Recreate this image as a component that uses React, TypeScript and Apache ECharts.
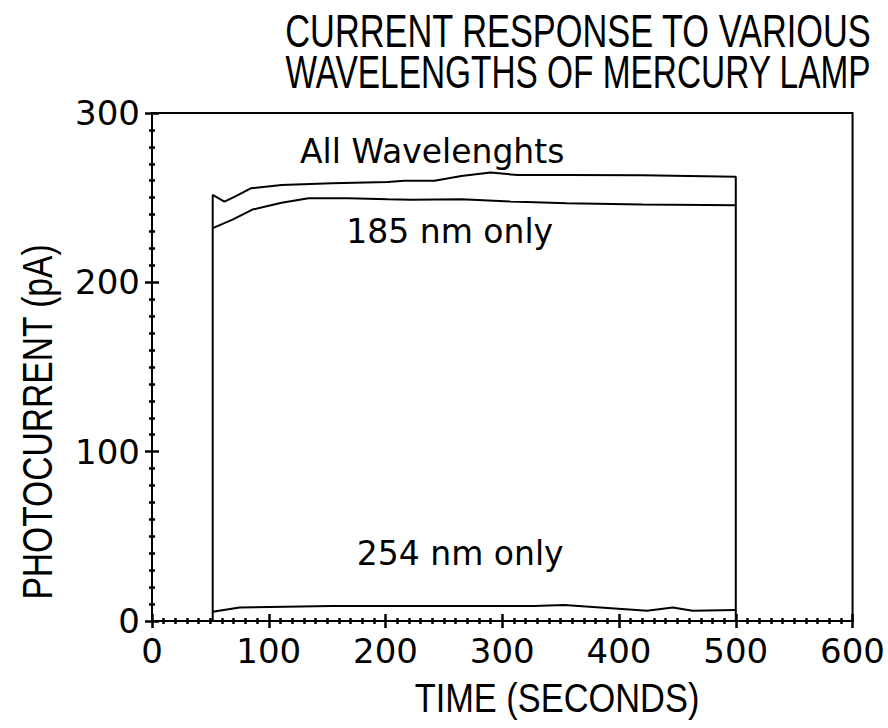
import React, { useEffect, useRef } from "react";
import * as echarts from "echarts";

// ---- Data ----
const titleLines = ["CURRENT RESPONSE TO VARIOUS", "WAVELENGTHS OF MERCURY LAMP"];
const xAxisName = "TIME (SECONDS)";
const yAxisName = "PHOTOCURRENT (pA)";

// All wavelengths (includes the on/off vertical edges)
const timeAll = [52, 52, 62, 71, 85, 111, 154, 202, 216, 242, 265, 290, 313, 355, 420, 500, 500];
const valAll = [0, 251.6, 247.7, 250.6, 255.6, 257.5, 258.5, 259.3, 260, 260, 262.8, 264.8, 263.4, 263.4, 263.2, 262.4, 0];

// 185 nm only
const time185 = [52, 69, 86, 111, 134, 168, 202, 222, 265, 307, 355, 420, 500];
const val185 = [232, 237, 243, 247, 249.6, 249.6, 249, 248.7, 249, 247.7, 246.7, 246, 245.5];

// 254 nm only
const time254 = [52, 75, 154, 211, 276, 327, 353, 384, 424, 446, 463, 500];
const val254 = [5.5, 8, 8.9, 8.9, 8.9, 8.9, 9.5, 8, 6.1, 8, 6.1, 6.5];

// Curve annotations: [time, value] anchors and texts
const labelTexts = ["All Wavelenghts", "185 nm only", "254 nm only"];
const labelTimes = [240, 255, 264];
const labelValues = [277, 230, 40];

const xTicks = { min: 0, max: 600, interval: 100 };
const yTicks = { min: 0, max: 300, interval: 100 };

const zip = (a: number[], b: number[]) => a.map((v, i) => [v, b[i]]);

export default function App() {
  const ref = useRef<HTMLDivElement>(null);
  useEffect(() => {
    if (!ref.current) return;
    const chart = echarts.init(ref.current, undefined, { renderer: "svg" });
    const font = "Liberation Sans";
    const labelFont = "DejaVu Sans";
    const lineStyle = { color: "#000", width: 2 };
    const tickStyle = { color: "#000", width: 2.5 };
    const baseAxis = (t: { min: number; max: number; interval: number }) => ({
      type: "value",
      min: t.min,
      max: t.max,
      interval: t.interval,
      splitLine: { show: false },
      minorSplitLine: { show: false },
    });
    const option: any = {
      animation: false,
      backgroundColor: "#fff",
      grid: {
        left: 152,
        right: 29,
        top: 113,
        bottom: 107,
        show: true,
        borderColor: "#000",
        borderWidth: 2,
        backgroundColor: "transparent",
      },
      xAxis: [
        {
          ...baseAxis(xTicks),
          position: "bottom",
          axisLine: { show: true, lineStyle },
          axisTick: { show: true, inside: false, length: 7, lineStyle: tickStyle },
          minorTick: { show: true, splitNumber: 10, length: 3, lineStyle: tickStyle },
          axisLabel: { color: "#000", fontSize: 34, fontFamily: labelFont, margin: 13 },
        },
        {
          ...baseAxis(xTicks),
          position: "bottom",
          offset: 0,
          axisLine: { show: true, lineStyle },
          axisTick: { show: true, inside: true, length: 7, lineStyle: tickStyle },
          minorTick: { show: true, splitNumber: 10, length: 3, lineStyle: tickStyle },
          axisLabel: { show: false },
        },
      ],
      yAxis: [
        {
          ...baseAxis(yTicks),
          position: "left",
          axisLine: { show: true, lineStyle },
          axisTick: { show: true, inside: false, length: 7, lineStyle: tickStyle },
          minorTick: { show: true, splitNumber: 10, length: 3, lineStyle: tickStyle },
          axisLabel: { color: "#000", fontSize: 34, fontFamily: labelFont, margin: 12 },
        },
        {
          ...baseAxis(yTicks),
          position: "left",
          offset: 0,
          axisLine: { show: true, lineStyle },
          axisTick: { show: true, inside: true, length: 7, lineStyle: tickStyle },
          minorTick: { show: true, splitNumber: 10, length: 3, lineStyle: tickStyle },
          axisLabel: { show: false },
        },
      ],
      graphic: [
        {
          type: "text",
          x: 578,
          y: 31,
          scaleX: 0.747,
          style: {
            text: titleLines[0],
            fontSize: 46,
            fontFamily: font,
            fill: "#000",
            align: "center",
            verticalAlign: "middle",
          },
        },
        {
          type: "text",
          x: 578,
          y: 73,
          scaleX: 0.726,
          style: {
            text: titleLines[1],
            fontSize: 46,
            fontFamily: font,
            fill: "#000",
            align: "center",
            verticalAlign: "middle",
          },
        },
        {
          type: "text",
          x: 557,
          y: 698,
          scaleX: 0.86,
          style: {
            text: xAxisName,
            fontSize: 40,
            fontFamily: font,
            fill: "#000",
            align: "center",
            verticalAlign: "middle",
          },
        },
        {
          type: "text",
          x: 38,
          y: 422,
          rotation: Math.PI / 2,
          scaleX: 0.8,
          style: {
            text: yAxisName,
            fontSize: 42,
            fontFamily: font,
            fill: "#000",
            align: "center",
            verticalAlign: "middle",
          },
        },
      ],
      series: [
        {
          type: "line",
          name: "All",
          data: zip(timeAll, valAll),
          showSymbol: false,
          lineStyle,
          itemStyle: { color: "#000" },
          silent: true,
        },
        {
          type: "line",
          name: "185",
          data: zip(time185, val185),
          showSymbol: false,
          lineStyle,
          itemStyle: { color: "#000" },
          silent: true,
        },
        {
          type: "line",
          name: "254",
          data: zip(time254, val254),
          showSymbol: false,
          lineStyle,
          itemStyle: { color: "#000" },
          silent: true,
        },
        {
          type: "scatter",
          symbolSize: 0,
          silent: true,
          itemStyle: { color: "#000", opacity: 1 },
          data: labelTexts.map((t, i) => ({ name: t, value: [labelTimes[i], labelValues[i]] })),
          label: {
            show: true,
            position: "inside",
            formatter: (p: any) => p.name,
            color: "#000",
            fontSize: 33,
            fontFamily: labelFont,
          },
        },
      ],
    };
    chart.setOption(option);
    return () => chart.dispose();
  }, []);
  return (
    <div
      ref={ref}
      style={{ position: "absolute", left: 0, top: 0, width: 888, height: 728 }}
    />
  );
}
